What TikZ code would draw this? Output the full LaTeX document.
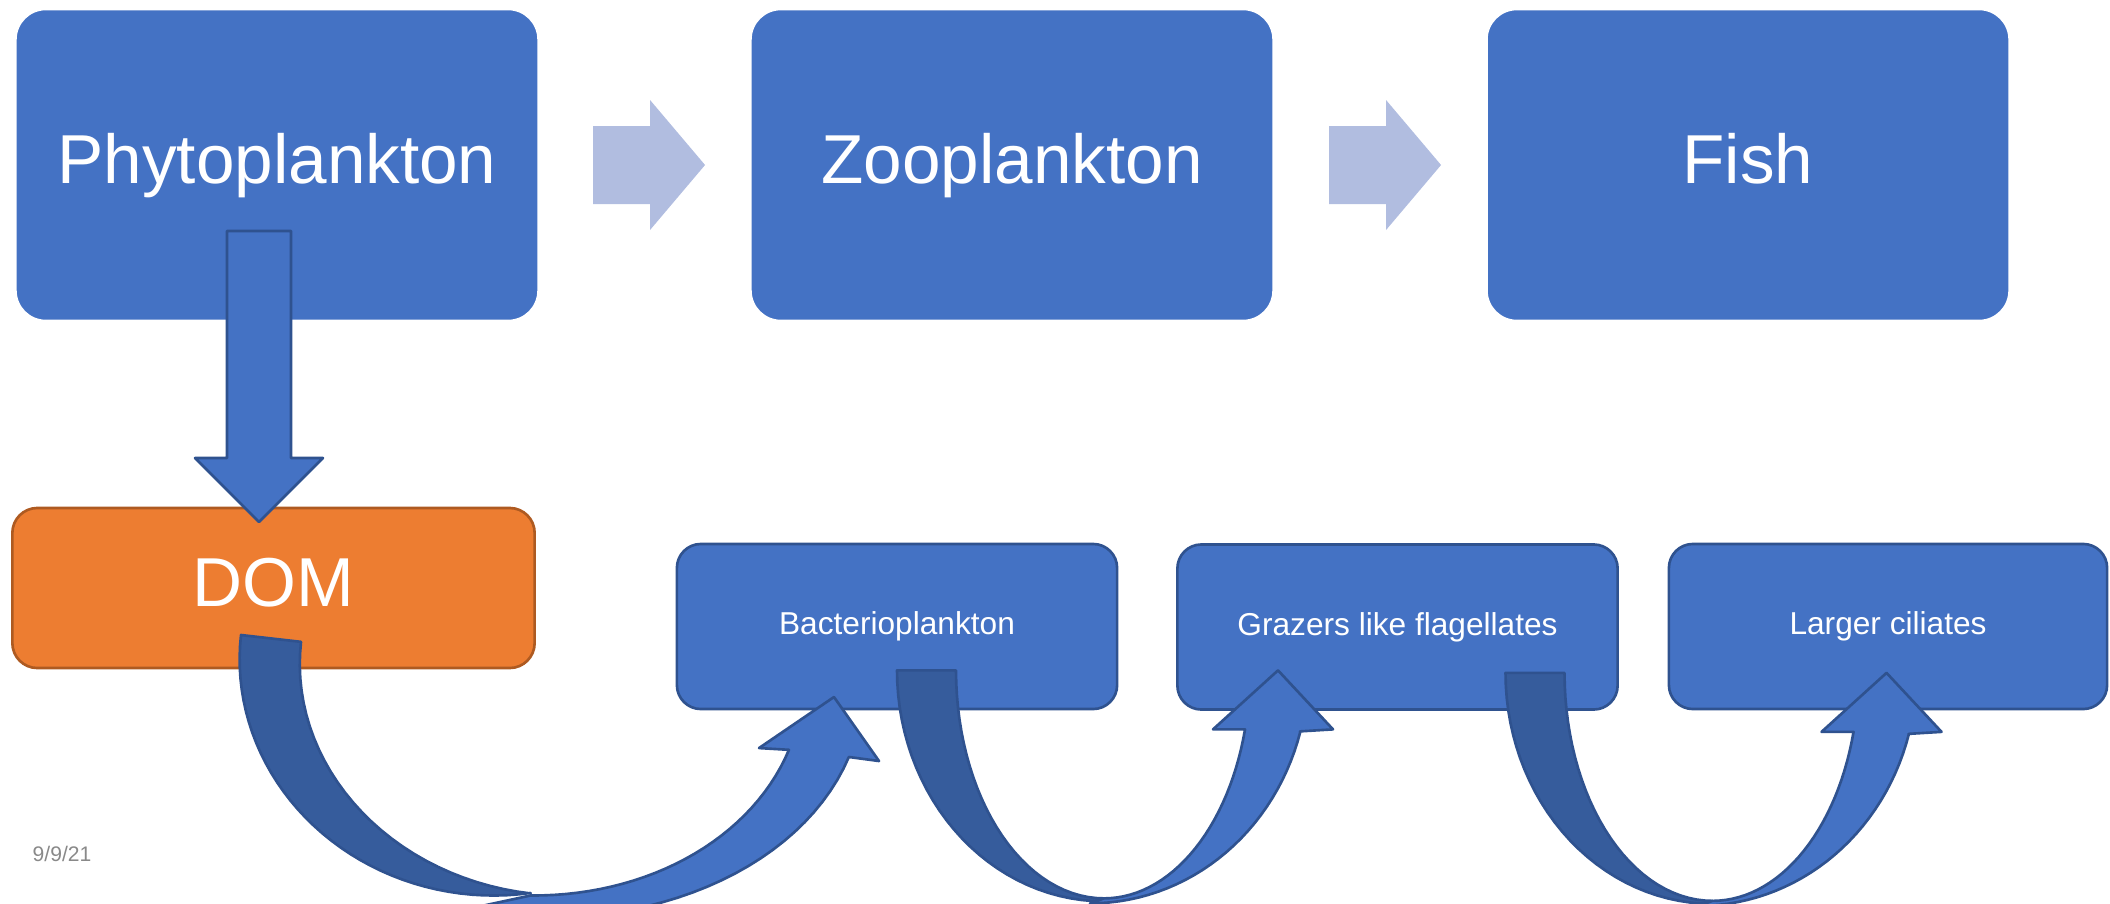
\documentclass[tikz,border=0pt]{standalone}
\usepackage{fontspec}
\setmainfont{Liberation Sans}
\usetikzlibrary{calc}

\definecolor{boxblue}{RGB}{68,114,196}
\definecolor{boxline}{RGB}{47,82,143}
\definecolor{bandblue}{RGB}{54,92,156}
\definecolor{flowblue}{RGB}{177,189,224}
\definecolor{domorange}{RGB}{237,125,49}
\definecolor{domline}{RGB}{174,90,33}
\definecolor{dategray}{RGB}{137,137,137}

\tikzset{
  topbox/.style={rectangle, rounded corners=0.3cm, fill=boxblue, draw=white, line width=0.5pt,
    minimum width=5.22cm, minimum height=3.11cm, inner sep=0pt, text=white,
    font=\fontsize{19.7}{24}\selectfont, text height=14.2pt, text depth=3.9pt},
  lowbox/.style={rectangle, rounded corners=0.24cm, fill=boxblue, draw=boxline, line width=0.75pt,
    minimum width=4.4cm, minimum height=1.65cm, inner sep=0pt, text=white,
    font=\fontsize{9}{11}\selectfont, text height=6.5pt, text depth=1.8pt},
  dombox/.style={lowbox, rounded corners=0.25cm, fill=domorange, draw=domline,
    minimum width=5.22cm, minimum height=1.6cm,
    font=\fontsize{19.7}{24}\selectfont, text height=14.2pt, text depth=3.9pt},
  flowarrow/.style={fill=flowblue},
  band/.style={fill=bandblue, draw=boxline, line width=0.75pt, line join=round},
  frontband/.style={fill=boxblue, draw=boxline, line width=0.75pt, line join=round},
  pics/flowhead/.style={code={
    \fill[flowarrow] (0,-39) -- (57,-39) -- (57,-65) -- (112,0) -- (57,65) -- (57,39) -- (0,39) -- cycle;
  }},
  pics/loopup/.style={code={
    \filldraw[band] plot[domain=0:90, samples=30] ({207-207*cos(\x)},{231*sin(\x)})
      -- plot[domain=0:90, samples=30] ({207-148*sin(\x)},{228*cos(\x)}) -- cycle;
    \filldraw[frontband] plot[domain=0:75, samples=30] ({207+146*sin(\x)},{228*cos(\x)})
      -- (316,59) -- (381,0) -- (436,59) -- (403,61)
      -- plot[domain=15.2:90, samples=30] ({193+218*cos(\x)},{233*sin(\x)}) -- cycle;
  }}
}

\begin{document}
\begin{tikzpicture}[x=0.01cm, y=-0.01cm]
\useasboundingbox (0,0) rectangle (2110,903);

\node[topbox] (phyto) at (277,165) {Phytoplankton};
\node[topbox] (zoo) at (1012,165) {Zooplankton};
\node[topbox] (fish) at (1748,165) {Fish};
\pic at ($(phyto.east)+(54,0)$) {flowhead};
\pic at ($(zoo.east)+(55,0)$) {flowhead};

\node[dombox] (dom) at (273.5,588) {DOM};
\filldraw[frontband] (227,231) -- (291,231) -- (291,458) -- (323,458) -- (259,522) -- (195,458) -- (227,458) -- cycle;

\node[lowbox] (bact) at (897,626.5) {Bacterioplankton};
\node[lowbox] (grazers) at (1397.5,627) {Grazers like flagellates};
\node[lowbox, minimum width=4.38cm] (ciliates) at (1888,626.5) {Larger ciliates};

% DOM -> bacterioplankton, tilted a little
\begin{scope}[shift={(241,635)}, rotate=-6.5]
\filldraw[frontband] plot[domain=0:69.3, samples=30] ({280+285*cos(82.5-\x)},{228*sin(82.5-\x)})
  -- (527.5,53.7) -- (596.2,-5.5) -- (648.2,53) -- (617.9,52.4)
  -- plot[domain=12.1:95, samples=30] ({279+346.5*cos(\x)},{250*sin(\x)}) -- cycle;
\filldraw[band] plot[domain=0:105.5, samples=40] ({250-250*cos(\x)},{232*sin(\x)})
  -- plot[domain=0:90, samples=30] ({317-256.6*sin(\x)},{224*cos(\x)}) -- cycle;
\end{scope}

\pic at ($(bact.south)+(0,-40)$) {loopup};
\pic at ($(grazers.south)+(108,-38)$) {loopup};

\node[anchor=base west, text=dategray, font=\fontsize{6}{7}\selectfont, inner sep=0pt] (date) at (32,861) {9/9/21};
\end{tikzpicture}
\end{document}
